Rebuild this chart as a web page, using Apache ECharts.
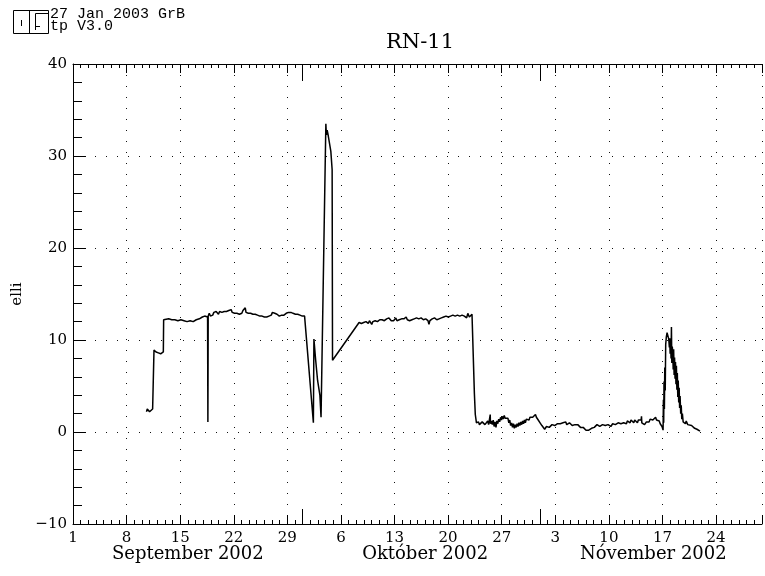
<!DOCTYPE html>
<html>
<head>
<meta charset="utf-8">
<script src="https://cdn.jsdelivr.net/npm/echarts@6/dist/echarts.min.js"></script>
<style>html,body{margin:0;padding:0;background:#fff}#c{width:765px;height:576px}</style>
</head>
<body>
<div id="c"></div>
<script>
// x values: days since 1 September 2002 (00:00); y values: elli
const sepDays = [9.60,9.70,9.80,9.90,10.00,10.10,10.25,10.40,10.55,10.58,10.70,10.85,11.00,11.15,11.30,11.45,11.60,11.80,11.84,
  12.1,12.5,12.9,13.3,13.7,14.1,14.5,14.9,15.3,15.7,16.1,16.5,16.9,17.2,17.45,17.58,17.62];
const sepElli = [2.2,2.5,2.3,2.4,2.2,2.4,2.3,2.5,2.4,8.9,8.9,8.7,8.8,8.6,8.7,8.5,8.6,8.7,12.2,
  12.2,12.3,12.2,12.2,12.1,12.2,12.1,12.0,12.1,12.0,12.2,12.3,12.5,12.6,12.8,12.5,1.1];

const sepLateDays = [17.66,17.80,17.95,18.10,18.25,18.40,18.55,18.70,18.85,19.00,19.15,19.30,19.45,19.60,19.75,19.90,20.05,20.20,20.35,20.50,
  20.66,20.80,20.95,21.10,21.25,21.40,21.55,21.74,21.90,22.05,22.20,22.35,22.50,22.60,22.75,22.90,23.05,23.20,23.35,23.50,
  23.65,23.80,23.95,24.10,24.25,24.40,24.55,24.70,24.85,25.00,25.15,25.30,25.45,25.60,25.75,25.90,26.05,26.20,26.35,26.50,
  26.65,26.80,26.95,27.10,27.25,27.40,27.55,27.70,27.85,28.00,28.15,28.30,28.47,28.60,28.75,28.90,29.05,29.20,29.35,29.50,
  29.65,29.80,29.95,30.10,30.25,30.43];
const sepLateElli = [12.6,12.9,12.6,12.8,12.7,13.0,12.8,13.1,12.9,12.8,13.1,12.9,13.0,12.8,13.1,12.9,13.1,13.0,13.2,13.0,
  13.3,13.0,13.1,12.9,13.1,12.9,13.0,12.8,13.0,12.9,13.2,13.0,13.5,13.0,13.2,12.9,13.1,12.9,13.0,12.8,
  13.0,12.8,12.9,12.7,12.9,12.6,12.8,12.6,12.7,12.5,12.6,12.5,12.7,12.6,12.8,12.7,13.0,12.8,12.9,12.7,
  12.8,12.6,12.6,12.8,12.7,12.9,12.7,12.8,12.9,12.8,13.0,12.8,13.0,12.8,12.9,12.7,12.8,12.7,12.8,12.6,
  12.7,12.6,12.6,12.5,12.6,12.5];

const octStartDays = [31.40,31.47,31.70,31.95,32.25,32.40,33.03,33.10,33.20,33.30,33.40,33.50,33.68,33.85,33.90];
const octStartElli = [1.0,10.1,7.8,5.6,4.0,1.6,33.5,32.3,32.8,32.4,32.6,32.2,30.5,28.5,7.8];

const octDays = [37.37,37.52,37.67,37.82,37.97,38.12,38.27,38.42,38.57,38.72,38.87,39.02,39.17,39.32,39.47,39.62,39.77,39.92,40.07,40.22,
  40.37,40.52,40.67,40.82,40.97,41.12,41.27,41.42,41.57,41.72,41.87,42.02,42.17,42.32,42.47,42.62,42.77,42.92,43.07,43.22,
  43.37,43.52,43.67,43.82,43.97,44.12,44.27,44.42,44.57,44.72,44.87,45.02,45.17,45.32,45.47,45.62,45.77,45.92,46.07,46.22,
  46.37,46.50,46.62,46.77,46.92,47.07,47.22,47.37,47.52,47.67,47.82,47.97,48.12,48.27,48.42,48.57,48.72,48.87,49.02,49.17,
  49.32,49.47,49.62,49.77,49.92,50.07,50.22,50.37,50.52,50.67,50.82,50.97,51.12,51.27,51.42,51.57,51.67,51.77,51.87,51.97,
  52.12,52.25,52.34,52.43,52.55,52.70];
const octElli = [11.9,12.0,11.8,12.0,11.9,11.8,12.0,11.9,11.8,12.1,11.9,11.7,12.0,11.8,12.1,11.9,12.0,11.9,12.2,12.0,
  12.2,12.0,12.1,11.9,12.3,12.1,12.4,12.2,12.1,12.3,12.1,12.2,12.4,12.1,12.0,12.2,12.1,12.3,12.1,12.3,
  12.2,12.5,12.2,12.3,12.1,12.3,12.2,12.1,12.3,12.2,12.4,12.2,12.3,12.1,12.4,12.3,12.2,12.4,12.3,12.2,
  12.1,11.7,12.1,12.2,12.3,12.2,12.4,12.3,12.2,12.4,12.3,12.5,12.4,12.3,12.5,12.4,12.6,12.4,12.5,12.4,
  12.6,12.5,12.7,12.5,12.6,12.5,12.7,12.5,12.6,12.4,12.7,12.5,12.6,12.8,12.4,12.9,13.1,12.5,12.7,12.6,
  12.8,13.0,12.8,4.2,1.9,1.0];

const lowDays = [52.85,52.97,53.09,53.21,53.33,53.45,53.57,53.69,53.81,53.93,54.05,54.17,54.29,54.41,54.47,54.50,54.53,54.65,54.77,54.89,
  55.01,55.13,55.25,55.37,55.49,55.61,55.73,55.85,55.97,56.09,56.21,56.33,56.45,56.57,56.69,56.81,56.93,57.05,57.17,57.29,
  57.41,57.53,57.65,57.77,57.89,58.01,58.13,58.25,58.37,58.49,58.61,58.73,58.85,58.97,59.09,59.21,59.33,59.45,59.57,59.69,
  59.81,59.93,60.05,60.17,60.29,60.41,60.53,60.65,60.77,60.89,61.01,61.13,61.25,61.37,61.49,61.61,61.73,61.85,61.97,62.09,
  62.21,62.33,62.45,62.57,62.69,62.81,62.93,63.05,63.17,63.29,63.41,63.53,63.65,63.77,63.89,64.01,64.13,64.25,64.37,64.49,
  64.61,64.73,64.85,64.97,65.09,65.21,65.33,65.45,65.57,65.69,65.81,65.93,66.05,66.17,66.29,66.41,66.53,66.65,66.77,66.89,
  67.01,67.13,67.25,67.37,67.49,67.61,67.73,67.85,67.97,68.09,68.21,68.33,68.45,68.57,68.69,68.81,68.93,69.05,69.17,69.29,
  69.41,69.53,69.65,69.77,69.89,70.01,70.13,70.25,70.37,70.49,70.61,70.73,70.85,70.97,71.09,71.21,71.33,71.45,71.57,71.69,
  71.81,71.93,72.05,72.17,72.29,72.41,72.53,72.65,72.77,72.89,73.01,73.13,73.25,73.37,73.49,73.61,73.73,73.85,73.97,74.09,
  74.21,74.26,74.30,74.42,74.54,74.66,74.78,74.90,75.02,75.14,75.26,75.38,75.50,75.62,75.74,75.86,75.98,76.10,76.22,76.34,
  76.46,76.58,76.70,76.82,76.94,77.02,77.08];
const lowElli = [0.9,1.1,0.8,1.0,0.7,1.1,0.9,1.2,0.8,1.0,0.9,1.2,0.8,1.0,0.7,1.9,0.9,1.2,0.8,1.3,
  0.6,1.1,0.5,1.2,0.9,1.4,1.1,1.6,1.3,1.7,1.4,1.8,1.5,1.7,1.3,1.5,1.0,1.3,0.7,1.0,
  0.5,0.9,0.4,0.8,0.5,0.9,0.6,1.0,0.7,1.1,0.8,1.2,0.9,1.3,1.0,1.4,1.2,1.5,1.3,1.6,
  1.5,1.7,1.6,1.8,1.7,1.9,1.6,1.5,1.3,1.2,1.0,0.9,0.7,0.6,0.5,0.3,0.4,0.6,0.5,0.7,
  0.5,0.7,0.6,0.8,0.6,0.8,0.7,0.9,0.6,0.9,0.8,1.0,0.9,1.1,0.9,1.0,1.1,0.9,1.1,0.8,
  1.0,0.9,1.0,0.8,0.9,0.7,0.9,0.7,0.8,0.8,0.7,0.8,0.6,0.7,0.5,0.6,0.4,0.5,0.3,0.4,
  0.2,0.3,0.1,0.2,0.0,0.3,0.4,0.3,0.6,0.5,0.7,0.6,0.8,0.7,0.8,0.6,0.8,0.7,0.8,0.6,
  0.9,0.7,0.8,0.6,0.8,0.7,0.9,0.6,0.8,0.9,0.7,1.0,0.8,0.9,0.7,1.0,0.8,1.0,0.9,1.1,
  0.8,1.0,0.9,1.1,0.9,1.2,1.0,1.2,1.0,1.3,1.1,1.2,1.0,1.3,1.1,1.2,1.0,1.3,1.2,1.4,
  1.3,1.7,1.0,0.9,1.1,0.8,1.0,1.1,1.0,1.3,1.1,1.4,1.2,1.4,1.3,1.5,1.4,1.6,1.3,1.4,
  1.1,1.2,0.9,1.0,0.6,0.4,0.2];

const novDays = [77.12,77.16,77.2,77.25,77.3,77.36,77.42,77.5,77.6,77.73,77.82,77.9,77.95,78.0,78.06,78.12,78.17,78.22,78.28,78.34,
  78.4,78.46,78.52,78.58,78.64,78.7,78.76,78.82,78.88,78.94,79.0,79.06,79.12,79.18,79.24,79.3,79.38,79.45,79.52,79.6,
  79.7,79.85,80.0,80.1,80.3,80.5,80.8,81.0,81.2,81.5,81.9];
const novElli = [3.5,1.0,5.5,2.5,7.0,4.5,9.5,10.3,10.8,10.6,10.1,9.2,10.2,8.5,9.8,8.0,11.4,7.5,9.3,8.6,
  6.8,9.0,6.2,8.1,5.8,7.6,5.2,7.2,4.6,6.4,3.8,5.6,3.2,4.8,2.6,3.9,2.0,2.9,1.4,2.0,
  1.1,1.3,0.9,1.2,0.8,0.9,0.7,0.5,0.4,0.3,0.1];

const tickLabels = ['1','8','15','22','29','6','13','20','27','3','10','17','24'];
const monthLabels = ['September 2002','Október 2002','Nóvember 2002'];
const monthCenters = [15, 46, 75.8];
const monthStarts = [30, 61];
const yTickLabels = {'40':'40','30':'30','20':'20','10':'10','0':'0','-10':'\u221210'};

const allDays = [].concat(sepDays, sepLateDays, octStartDays, octDays, lowDays, novDays);
const allElli = [].concat(sepElli, sepLateElli, octStartElli, octElli, lowElli, novElli);

const SERIF = '"DejaVu Serif", "Liberation Serif", serif';
const black = '#000';
const base = {type:'value', min:0, max:90, gridIndex:0};
function tickAxis(pos, interval, len, extra) {
  return Object.assign({}, base, {
    position: pos, interval: interval,
    axisLine: {show: false, onZero: false},
    axisTick: {show: true, inside: true, length: len, lineStyle: {color: black, width: 1}},
    axisLabel: {show: false},
    splitLine: {show: false}
  }, extra || {});
}

const chart = echarts.init(document.getElementById('c'), null, {renderer: 'canvas'});
chart.setOption({
  animation: false,
  backgroundColor: '#fff',
  title: {
    text: 'RN-11', left: 386, top: 32, padding: 0,
    textStyle: {fontFamily: SERIF, fontSize: 21, fontWeight: 'normal', color: black}
  },
  grid: {left: 73, right: 0, top: 64, height: 460, containLabel: false},
  xAxis: [
    Object.assign({}, base, {
      position: 'bottom', interval: 7,
      axisLine: {show: true, onZero: false, lineStyle: {color: black, width: 1}},
      axisTick: {show: true, inside: true, length: 9, lineStyle: {color: black}},
      axisLabel: {
        show: true, margin: 7, color: black, fontFamily: SERIF, fontSize: 15,
        formatter: v => (v % 7 === 0 && v / 7 < tickLabels.length) ? tickLabels[v / 7] : ''
      },
      splitLine: {show: true, lineStyle: {color: '#111', width: 1, type: [1, 10]}}
    }),
    tickAxis('bottom', 1, 4),
    tickAxis('bottom', 1, 15, {axisTick: {show: true, inside: true, length: 15, customValues: monthStarts, lineStyle: {color: black}}}),
    tickAxis('bottom', 1, 0, {
      axisTick: {show: false},
      axisLabel: {
        show: true, margin: 21, color: black, fontFamily: SERIF, fontSize: 18,
        customValues: monthCenters,
        formatter: v => { const i = monthCenters.indexOf(v); return i >= 0 ? monthLabels[i] : ''; }
      }
    }),
    tickAxis('top', 1, 4, {axisLine: {show: true, onZero: false, lineStyle: {color: black, width: 1}}}),
    tickAxis('top', 7, 9),
    tickAxis('top', 1, 17, {axisTick: {show: true, inside: true, length: 17, customValues: monthStarts, lineStyle: {color: black}}})
  ],
  yAxis: [{
    type: 'value', min: -10, max: 40, interval: 10, position: 'left',
    name: 'elli', nameLocation: 'middle', nameGap: 44, nameRotate: 90,
    nameTextStyle: {fontFamily: SERIF, fontSize: 15, color: black},
    axisLine: {show: true, onZero: false, lineStyle: {color: black, width: 1}},
    axisTick: {show: true, inside: true, length: 13, lineStyle: {color: black}},
    minorTick: {show: true, splitNumber: 5, length: 9, lineStyle: {color: black}},
    axisLabel: {
      margin: 6, color: black, fontFamily: SERIF, fontSize: 15,
      formatter: v => yTickLabels[String(v)] || String(v)
    },
    splitLine: {show: true, lineStyle: {color: '#111', width: 1, type: [1, 10]}}
  }],
  graphic: [
    {type: 'rect', shape: {x: 13.5, y: 10.5, width: 35, height: 23}, style: {fill: 'none', stroke: black, lineWidth: 1}},
    {type: 'line', shape: {x1: 29.5, y1: 10.5, x2: 29.5, y2: 33.5}, style: {stroke: black, lineWidth: 1}},
    {type: 'line', shape: {x1: 21.5, y1: 20, x2: 21.5, y2: 26}, style: {stroke: black, lineWidth: 1}},
    {type: 'line', shape: {x1: 35.5, y1: 13.5, x2: 48.5, y2: 13.5}, style: {stroke: black, lineWidth: 1}},
    {type: 'line', shape: {x1: 35.5, y1: 13.5, x2: 35.5, y2: 30}, style: {stroke: black, lineWidth: 1}},
    {type: 'line', shape: {x1: 35.5, y1: 26.5, x2: 40, y2: 26.5}, style: {stroke: black, lineWidth: 1}},
    {type: 'text', x: 50, y: 7, style: {text: '27 Jan 2003 GrB', font: '15px "Liberation Mono", monospace', fill: black}},
    {type: 'text', x: 50, y: 19, style: {text: 'tp V3.0', font: '15px "Liberation Mono", monospace', fill: black}}
  ],
  series: [{
    type: 'line', xAxisIndex: 0, yAxisIndex: 0,
    data: allDays.map((d, i) => [d, allElli[i]]),
    showSymbol: false, symbol: 'none',
    lineStyle: {color: black, width: 1.5},
    clip: true
  }]
});
</script>
</body>
</html>
